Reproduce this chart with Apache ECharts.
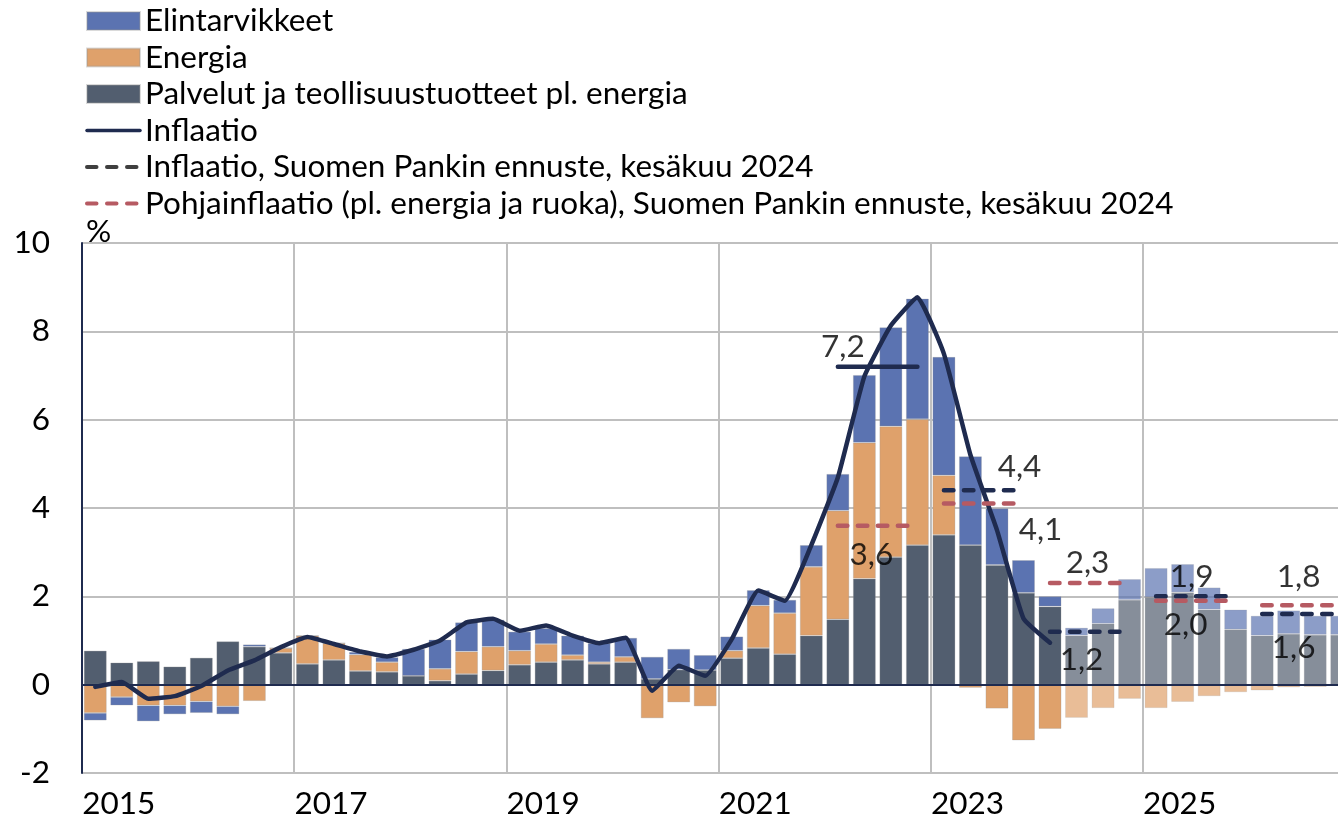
<!DOCTYPE html>
<html>
<head>
<meta charset="utf-8">
<title>Inflaatio</title>
<script src="https://cdn.jsdelivr.net/npm/echarts@6/dist/echarts.min.js"></script>
<style>
  html, body { margin: 0; padding: 0; background: #fff; overflow: hidden; }
  /* plot runs past the right edge of the picture, as in the original crop */
  #chart-container { width: 1355px; height: 820px; }
</style>
</head>
<body>
<div id="chart-container"></div>
<script>
'use strict';

// quarters 2015Q1 .. 2026Q4
const quarters = [];
for (let y = 2015; y <= 2026; y++) {
    for (let q = 1; q <= 4; q++) {
        quarters.push(y + 'Q' + q);
    }
}
const forecastStart = 37; // 2024Q2 onwards drawn lighter

// contributions, %-points
const services = [
    0.77, 0.50, 0.53, 0.41, 0.61, 0.98, 0.86, 0.72,
    0.47, 0.56, 0.31, 0.29, 0.20, 0.09, 0.24, 0.32,
    0.45, 0.51, 0.56, 0.47, 0.51, 0.13, 0.34, 0.33,
    0.60, 0.83, 0.69, 1.11, 1.48, 2.40, 2.89, 3.16,
    3.39, 3.16, 2.71, 2.08, 1.77, 1.11, 1.38, 1.92,
    1.98, 2.09, 1.70, 1.25, 1.11, 1.15, 1.13, 1.13
];
const energy = [
    -0.64, -0.28, -0.47, -0.47, -0.38, -0.49, -0.37, 0.11,
    0.64, 0.38, 0.37, 0.22, 0.00, 0.27, 0.51, 0.54,
    0.32, 0.41, 0.11, 0.04, 0.12, -0.76, -0.40, -0.49,
    0.17, 0.96, 0.93, 1.56, 2.46, 3.08, 2.96, 2.85,
    1.35, -0.07, -0.54, -1.26, -1.00, -0.75, -0.53, -0.32,
    -0.53, -0.39, -0.26, -0.17, -0.13, -0.06, -0.05, -0.02
];
const food = [
    -0.17, -0.19, -0.36, -0.20, -0.26, -0.18, 0.05, 0.00,
    0.00, 0.00, 0.06, 0.11, 0.61, 0.66, 0.66, 0.61,
    0.43, 0.36, 0.44, 0.43, 0.43, 0.50, 0.47, 0.34,
    0.32, 0.35, 0.30, 0.49, 0.83, 1.53, 2.24, 2.73,
    2.68, 2.01, 1.28, 0.74, 0.23, 0.18, 0.35, 0.47,
    0.66, 0.64, 0.50, 0.45, 0.45, 0.53, 0.43, 0.43
];
// inflation, %, 2015Q1 .. 2024Q1
const inflation = [
    -0.05, 0.06, -0.32, -0.26, -0.03, 0.32, 0.55, 0.85,
    1.08, 0.92, 0.75, 0.64, 0.79, 1.00, 1.41, 1.49,
    1.22, 1.34, 1.11, 0.94, 1.06, -0.14, 0.43, 0.20,
    1.03, 2.13, 1.90, 3.16, 4.69, 6.98, 8.13, 8.77,
    7.49, 5.20, 3.50, 1.50, 0.95
];

// annual averages (2022 actual, rest Suomen Pankki forecast June 2024)
const annualYears = ['2022', '2023', '2024', '2025', '2026'];
const annualInflation = [7.2, 4.4, 1.2, 2.0, 1.6];
const annualCore = [3.6, 4.1, 2.3, 1.9, 1.8];

// label placement: [quarter of year, dx, dy]
const inflLabelPos = [[0, 5, -20], [3, -4, -23], [1, 5, 28], [1, 3, 29], [1, 5, 34]];
const coreLabelPos = [[1, 7, 29], [3, 17, 26], [1, 11, -20], [1, 9, -24], [1, 10, -28]];

const NAVY = '#1f2b4f';
const RED = '#b65a62';
const FONT = 'Lato';
const FS = 31.5;

const nFood = 'Elintarvikkeet';
const nEnergy = 'Energia';
const nServices = 'Palvelut ja teollisuustuotteet pl. energia';
const nInfl = 'Inflaatio';
const nInflF = 'Inflaatio, Suomen Pankin ennuste, kesäkuu 2024';
const nCore = 'Pohjainflaatio (pl. energia ja ruoka), Suomen Pankin ennuste, kesäkuu 2024';

function withForecast(arr) {
    return arr.map((v, i) => i >= forecastStart ? { value: v, itemStyle: { opacity: 0.7 } } : v);
}

function yearData(year, value) {
    const start = quarters.indexOf(year + 'Q1');
    return quarters.map((q, i) => (i >= start && i < start + 4) ? value : null);
}

function fmt(v) {
    return v.toFixed(1).replace('.', ',');
}

const dashStyle = (color) => ({
    color: color,
    width: 4.5,
    type: [9.5, 10.5],
    cap: 'round'
});

const barEdge = { borderColor: 'rgba(150,150,150,0.35)', borderWidth: 0.8 };

const series = [
    {
        name: nServices, type: 'bar', stack: 'c', barCategoryGap: '14%',
        itemStyle: Object.assign({ color: '#525e6f' }, barEdge),
        data: withForecast(services)
    },
    {
        name: nEnergy, type: 'bar', stack: 'c',
        itemStyle: Object.assign({ color: '#dfa16b' }, barEdge),
        data: withForecast(energy)
    },
    {
        name: nFood, type: 'bar', stack: 'c',
        itemStyle: Object.assign({ color: '#5b73b1' }, barEdge),
        data: withForecast(food),
        markLine: {
            silent: true,
            symbol: ['none', 'none'],
            label: { show: false },
            lineStyle: { color: NAVY, width: 2, type: 'solid' },
            data: [{ yAxis: 0 }]
        }
    },
    {
        name: nInfl, type: 'line', data: inflation,
        symbol: 'none', smooth: 0.12, z: 4,
        lineStyle: { color: NAVY, width: 4.5, cap: 'round', join: 'round' },
        itemStyle: { color: NAVY }
    }
];

const labelData = [];
annualYears.forEach((year, k) => {
    const solid = k === 0;
    series.push({
        name: solid ? 'Inflaatio ' + year : nInflF,
        type: 'line', symbol: 'none', z: 5,
        data: yearData(year, annualInflation[k]),
        lineStyle: solid ? { color: NAVY, width: 4.5, cap: 'round' } : dashStyle(NAVY),
        itemStyle: { color: NAVY }
    });
    const start = quarters.indexOf(year + 'Q1');
    labelData.push({
        value: [start + inflLabelPos[k][0], annualInflation[k]],
        label: { offset: [inflLabelPos[k][1], inflLabelPos[k][2]] }
    });
});
annualYears.forEach((year, k) => {
    series.push({
        name: nCore,
        type: 'line', symbol: 'none', z: 6,
        data: yearData(year, annualCore[k]),
        lineStyle: dashStyle(RED),
        itemStyle: { color: RED }
    });
    const start = quarters.indexOf(year + 'Q1');
    labelData.push({
        value: [start + coreLabelPos[k][0], annualCore[k]],
        label: { offset: [coreLabelPos[k][1], coreLabelPos[k][2]] }
    });
});
series.push({
    name: 'labels', type: 'scatter', symbolSize: 1, z: 7, silent: true,
    itemStyle: { color: 'rgba(0,0,0,0)' },
    label: {
        show: true, position: 'inside',
        fontFamily: FONT, fontSize: FS, color: '#000',
        formatter: (p) => fmt(p.value[1])
    },
    data: labelData
});

const chart = echarts.init(document.getElementById('chart-container'), null, { renderer: 'canvas' });

const noSymbol = { opacity: 0, color: 'rgba(0,0,0,0)', borderWidth: 0 };

chart.setOption({
    backgroundColor: '#fff',
    animation: false,
    textStyle: { fontFamily: FONT },
    legend: {
        orient: 'vertical',
        left: 85,
        top: 5,
        padding: 0,
        itemWidth: 53,
        itemHeight: 18,
        itemGap: 4.5,
        selectedMode: false,
        textStyle: { fontFamily: FONT, fontSize: FS, lineHeight: 30, color: '#000', padding: [0, 0, 0, 0] },
        data: [
            { name: nFood, icon: 'rect' },
            { name: nEnergy, icon: 'rect' },
            { name: nServices, icon: 'rect' },
            { name: nInfl, lineStyle: { width: 3.5 }, itemStyle: noSymbol },
            { name: nInflF, lineStyle: { color: '#3f3f3f', width: 4 }, itemStyle: noSymbol },
            { name: nCore, lineStyle: { width: 4 }, itemStyle: noSymbol }
        ]
    },
    grid: { left: 82, right: 0, top: 243, bottom: 47 },
    xAxis: {
        type: 'category',
        data: quarters,
        boundaryGap: true,
        axisLine: { show: false },
        axisTick: { show: false },
        axisLabel: {
            interval: (i) => i % 8 === 1,
            formatter: (v) => v.slice(0, 4),
            fontFamily: FONT, fontSize: FS, color: '#000',
            margin: 15,
            padding: [0, 6, 0, 0]
        },
        splitLine: {
            show: true,
            interval: (i) => i % 8 === 0,
            lineStyle: { color: '#bfbfbf', width: 2 }
        }
    },
    yAxis: {
        type: 'value',
        min: -2, max: 10, interval: 2,
        name: '%',
        nameLocation: 'end',
        nameGap: 11,
        nameTextStyle: { fontFamily: FONT, fontSize: FS, color: '#000', align: 'left', verticalAlign: 'middle', padding: [0, 0, 0, 4] },
        axisLine: { show: true, lineStyle: { color: NAVY, width: 2 } },
        axisTick: { show: false },
        axisLabel: { fontFamily: FONT, fontSize: FS, color: '#000', margin: 32 },
        splitLine: { lineStyle: { color: '#bfbfbf', width: 2 } }
    },
    series: series
});

window.addEventListener('resize', chart.resize);
</script>
</body>
</html>
